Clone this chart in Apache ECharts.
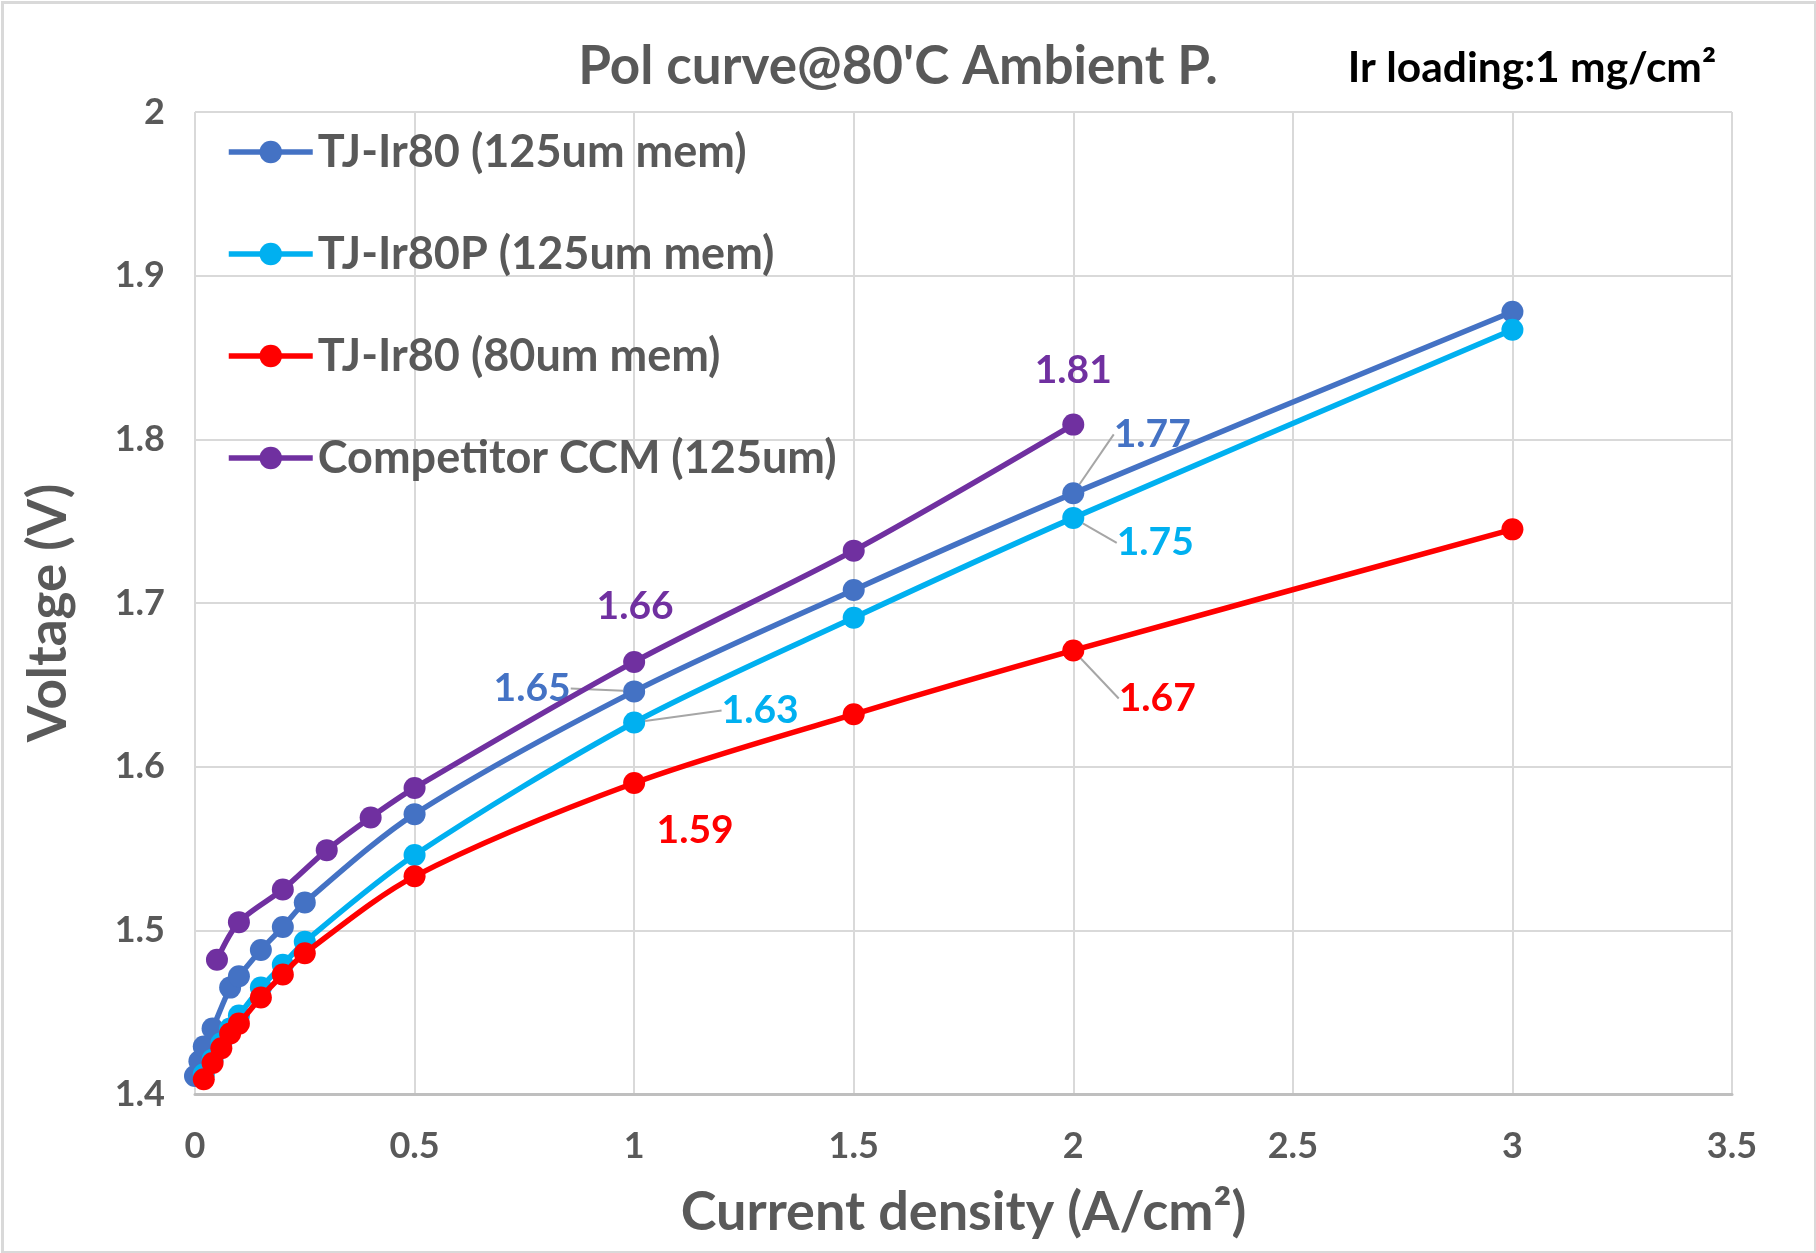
<!DOCTYPE html>
<html>
<head>
<meta charset="utf-8">
<script src="https://cdn.jsdelivr.net/npm/echarts@6/dist/echarts.min.js"></script>
<style>
  html, body { margin: 0; padding: 0; background: #fff; }
  #chart { width: 1816px; height: 1253px; }
</style>
</head>
<body>
<div id="chart"></div>
<script>
// ---------------- DATA ----------------
const seriesNames = ['TJ-Ir80 (125um mem)', 'TJ-Ir80P (125um mem)', 'TJ-Ir80 (80um mem)', 'Competitor CCM (125um)'];

const xBlue = [0, 0.01, 0.02, 0.04, 0.08, 0.1, 0.15, 0.2, 0.25, 0.5, 1, 1.5, 2, 3];
const yBlue = [1.411, 1.420, 1.429, 1.440, 1.465, 1.472, 1.488, 1.502, 1.517, 1.571, 1.646, 1.708, 1.767, 1.878];

const xCyan = [0.02, 0.04, 0.06, 0.08, 0.1, 0.15, 0.2, 0.25, 0.5, 1, 1.5, 2, 3];
const yCyan = [1.412, 1.421, 1.431, 1.440, 1.448, 1.465, 1.479, 1.493, 1.546, 1.627, 1.691, 1.752, 1.867];

const xRed = [0.02, 0.04, 0.06, 0.08, 0.1, 0.15, 0.2, 0.25, 0.5, 1, 1.5, 2, 3];
const yRed = [1.409, 1.419, 1.428, 1.437, 1.443, 1.459, 1.473, 1.486, 1.533, 1.590, 1.632, 1.671, 1.745];

const xPurple = [0.05, 0.1, 0.2, 0.3, 0.4, 0.5, 1, 1.5, 2];
const yPurple = [1.482, 1.505, 1.525, 1.549, 1.569, 1.587, 1.664, 1.732, 1.809];

// x values whose points carry a data label
const labeledX = [1, 2];

const xTicks = { min: 0, max: 3.5, interval: 0.5 };
const yTicks = { min: 1.4, max: 2, interval: 0.1 };

// ---------------- STYLE / LAYOUT ----------------
const colors = ['#4472C4', '#00B0F0', '#FF0000', '#7030A0'];
const FONT = 'Lato';
const GRAY = '#595959';

// label placement relative to the marker centre (style, not data)
const labelSpec = [
  { 1: { dx: -102, dy: -3, line: [[0, 0], [-22, -5], [-49, -5]] },
    2: { dx: 79, dy: -59, line: [[0, 0], [5, -63], [25, -63]] } },
  { 1: { dx: 126, dy: -12, line: [[0, 0], [56, -13], [73, -13]] },
    2: { dx: 82, dy: 25, line: [[0, 0], [10, 23], [28, 23]] } },
  { 1: { dx: 61, dy: 47 },
    2: { dx: 84, dy: 48, line: [[0, 0], [11, 48], [30, 48]] } },
  { 1: { dx: 1, dy: -55 },
    2: { dx: 0, dy: -54 } }
];

const xs = [xBlue, xCyan, xRed, xPurple];
const ys = [yBlue, yCyan, yRed, yPurple];

const specByIndex = xs.map(() => ({}));

const series = xs.map((xArr, si) => {
  const data = xArr.map((x, i) => {
    const item = { value: [x, ys[si][i]] };
    if (labeledX.indexOf(x) >= 0 && labelSpec[si][x]) {
      const spec = labelSpec[si][x];
      specByIndex[si][i] = spec;
      item.label = { show: true };
      item.labelLine = { show: !!spec.line };
    }
    return item;
  });
  return {
    name: seriesNames[si],
    type: 'line',
    data: data,
    smooth: 0.3,
    symbol: 'circle',
    symbolSize: 22,
    showAllSymbol: true,
    clip: false,
    lineStyle: { color: colors[si], width: 5.5 },
    itemStyle: { color: colors[si] },
    z: 2 + si,
    label: {
      show: false,
      position: 'inside',
      formatter: p => p.value[1].toFixed(2),
      color: colors[si],
      fontFamily: FONT,
      fontWeight: 'bold',
      fontSize: 39
    },
    labelLine: {
      show: false,
      smooth: false,
      lineStyle: { color: '#A6A6A6', width: 2 }
    },
    labelLayout: function (params) {
      const spec = specByIndex[params.seriesIndex][params.dataIndex];
      if (!spec) return {};
      const cx = params.rect.x + params.rect.width / 2;
      const cy = params.rect.y + params.rect.height / 2;
      const out = { x: cx + spec.dx, y: cy + spec.dy, align: 'center', verticalAlign: 'middle' };
      if (spec.line) out.labelLinePoints = spec.line.map(p => [cx + p[0], cy + p[1]]);
      return out;
    },
    emphasis: { disabled: true }
  };
});

const chart = echarts.init(document.getElementById('chart'), null, { renderer: 'canvas' });

chart.setOption({
  animation: false,
  backgroundColor: '#ffffff',
  color: colors,
  title: [
    {
      text: "Pol curve@80'C Ambient P.",
      left: 893, top: 32, textAlign: 'center',
      textStyle: { fontFamily: FONT, fontWeight: 'bold', fontSize: 53, color: GRAY, lineHeight: 60 }
    },
    {
      text: 'Ir loading:1 mg/cm²',
      left: 1527, top: 39, textAlign: 'center',
      textStyle: { fontFamily: FONT, fontWeight: 'bold', fontSize: 42.5, color: '#000000', lineHeight: 48 }
    }
  ],
  legend: {
    orient: 'vertical',
    left: 221, top: 122,
    itemWidth: 84, itemHeight: 28,
    itemGap: 52,
    data: seriesNames,
    lineStyle: { width: 5.5 },
    textStyle: { fontFamily: FONT, fontWeight: 'bold', fontSize: 45, color: GRAY, lineHeight: 50 }
  },
  grid: { left: 195, right: 84, top: 112, bottom: 159, containLabel: false },
  xAxis: {
    type: 'value',
    min: xTicks.min, max: xTicks.max, interval: xTicks.interval,
    name: 'Current density (A/cm²)',
    nameLocation: 'middle',
    nameGap: 92,
    nameTextStyle: { fontFamily: FONT, fontWeight: 'bold', fontSize: 54, color: GRAY },
    axisLine: { show: true, lineStyle: { color: '#BFBFBF', width: 3 } },
    axisTick: { show: false },
    axisLabel: { fontFamily: FONT, fontWeight: 'bold', fontSize: 36, color: GRAY, margin: 34 },
    splitLine: { show: true, lineStyle: { color: '#D9D9D9', width: 2 } }
  },
  yAxis: {
    type: 'value',
    min: yTicks.min, max: yTicks.max, interval: yTicks.interval,
    name: 'Voltage (V)',
    nameLocation: 'middle',
    nameGap: 120,
    nameTextStyle: { fontFamily: FONT, fontWeight: 'bold', fontSize: 53, color: GRAY, padding: [0, 20, 0, 0] },
    axisLine: { show: false },
    axisTick: { show: false },
    axisLabel: { fontFamily: FONT, fontWeight: 'bold', fontSize: 36, color: GRAY, margin: 30 },
    splitLine: { show: true, lineStyle: { color: '#D9D9D9', width: 2 } }
  },
  graphic: [
    {
      type: 'rect', left: 0, top: 0, silent: true, z: -1,
      shape: { x: 1.5, y: 1.5, width: 1813, height: 1250 },
      style: { fill: 'none', stroke: '#D9D9D9', lineWidth: 3 }
    }
  ],
  series: series
});
</script>
</body>
</html>
